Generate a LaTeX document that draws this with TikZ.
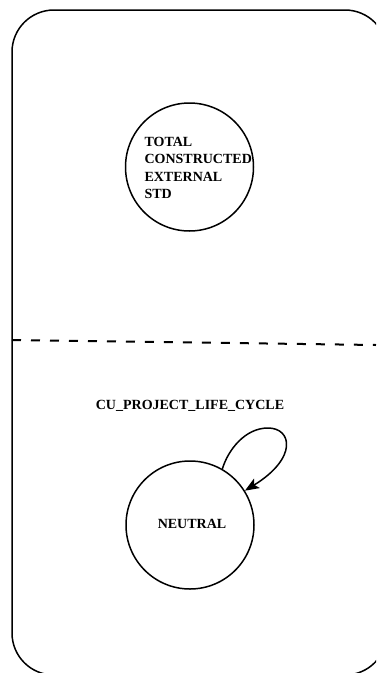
\documentclass[tikz,border=0pt]{standalone}
\usepackage{fontspec}
\setmainfont{Liberation Serif}
\usetikzlibrary{arrows.meta}
\begin{document}
\begin{tikzpicture}[x=1pt,y=-1pt,
  statenode/.style={circle,draw,line width=1.5pt,minimum size=128pt,inner sep=0pt},
  lbl/.style={font=\fontsize{14}{17.5}\selectfont\bfseries},
  frame/.style={line width=1.5pt},
  loop/.style={line width=1.5pt,-{Stealth[length=14pt,width=11pt,inset=3pt]}}]
\useasboundingbox (0,0) rectangle (376,673);
\begin{scope}
\clip (0,0) rectangle (376,673);
\draw[frame] (387,52) .. controls (387,28.8) and (368.2,10) .. (345,10) -- (54,10)
  .. controls (30.8,10) and (12,28.8) .. (12,52) -- (12,633)
  .. controls (12,656.2) and (30.8,675) .. (54,675) -- (345,675)
  .. controls (368.2,675) and (387,656.2) .. (387,633);
\end{scope}
\draw[line width=2pt,dash pattern=on 9pt off 10pt] (12,340) -- (376,345);
\node[statenode] (c1) at (189.5,167) {};
\node[lbl,align=left,anchor=west] (t1) at (141,168) {TOTAL\\CONSTRUCTED\\EXTERNAL\\STD};
\node[lbl] (title) at (190,406) {CU\_PROJECT\_LIFE\_CYCLE};
\node[statenode] (n) at (190,525) {};
\node[lbl] (nt) at (192,524) {NEUTRAL};
\draw[loop] (n.60) .. controls (228,450) and (245,428) .. (268,428)
  .. controls (292,428) and (298,458) .. (n.32);
\end{tikzpicture}
\end{document}
